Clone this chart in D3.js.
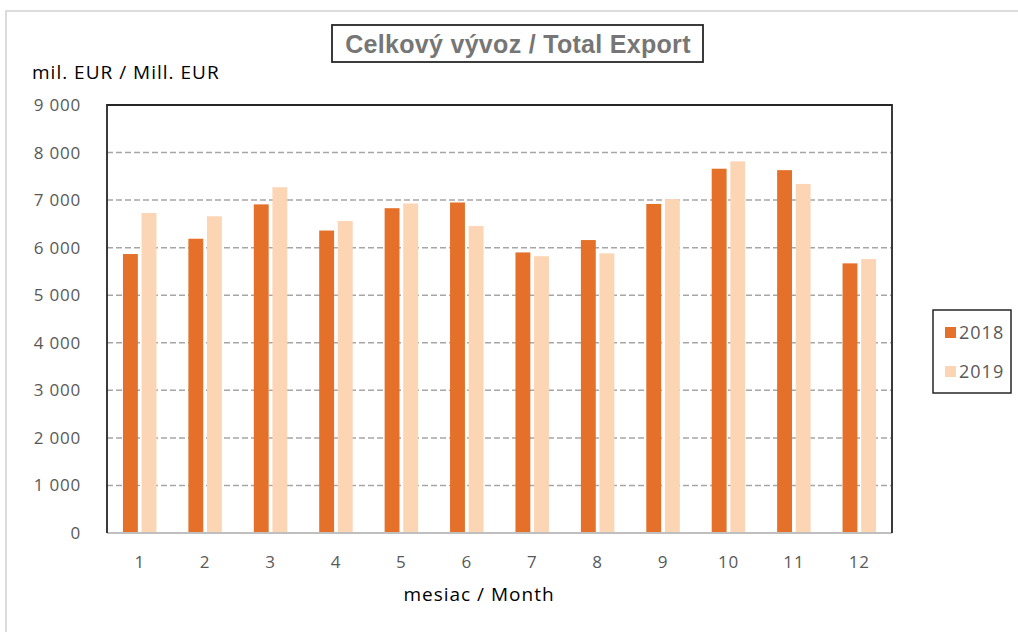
<!DOCTYPE html>
<html>
<head>
<meta charset="utf-8">
<script src="https://cdn.jsdelivr.net/npm/d3@7"></script>
<style>
  body { margin: 0; background: #fff; }
  text { font-family: "Open Sans", "Noto Sans", sans-serif; }
</style>
</head>
<body>
<div id="chart"></div>
<script>
// Chart data
var months = ["1", "2", "3", "4", "5", "6", "7", "8", "9", "10", "11", "12"];
var seriesNames = ["2018", "2019"];
var export2018 = [5866, 6188, 6910, 6360, 6830, 6950, 5900, 6160, 6920, 7660, 7630, 5670];
var export2019 = [6730, 6660, 7270, 6560, 6930, 6455, 5820, 5880, 7020, 7815, 7340, 5760];
var yTicks = [0, 1000, 2000, 3000, 4000, 5000, 6000, 7000, 8000, 9000];
var colors = ["#E4702A", "#FCD5B5"];

var svgWidth = 1018;
var svgHeight = 632;

// plot area
var margin = { top: 105, right: 126, bottom: 99, left: 107 };
var width = svgWidth - margin.left - margin.right;
var height = svgHeight - margin.top - margin.bottom;

var svg = d3.select("#chart")
  .append("svg")
  .attr("width", svgWidth)
  .attr("height", svgHeight);

// outer light frame
svg.append("path")
  .attr("d", "M6,640 L6,11 L1030,11")
  .attr("fill", "none")
  .attr("stroke", "#dcdcdc")
  .attr("stroke-width", 2);

var chartGroup = svg.append("g")
  .attr("transform", `translate(${margin.left}, ${margin.top})`);

// scales
var x0 = d3.scaleBand()
  .domain(months)
  .range([0, width])
  .paddingInner(0.488)
  .paddingOuter(0.244);

var x1 = d3.scaleBand()
  .domain(seriesNames)
  .range([0, x0.bandwidth()])
  .paddingInner(0.2);

var y = d3.scaleLinear()
  .domain([0, 9000])
  .range([height, 0]);

// gridlines
chartGroup.append("g")
  .selectAll("line")
  .data(yTicks.filter(d => d > 0 && d < 9000))
  .enter()
  .append("line")
  .attr("x1", 0)
  .attr("x2", width)
  .attr("y1", d => y(d))
  .attr("y2", d => y(d))
  .attr("stroke", "#a6a6a6")
  .attr("stroke-width", 1.5)
  .attr("stroke-dasharray", "6,3");

// bars
var data = months.map((m, i) => ({ month: m, values: [export2018[i], export2019[i]] }));

var groups = chartGroup.selectAll(".month")
  .data(data)
  .enter()
  .append("g")
  .attr("transform", d => `translate(${x0(d.month)}, 0)`);

groups.selectAll("rect")
  .data(d => d.values.map((v, i) => ({ key: seriesNames[i], value: v, idx: i })))
  .enter()
  .append("rect")
  .attr("x", d => x1(d.key))
  .attr("width", x1.bandwidth())
  .attr("y", d => y(d.value))
  .attr("height", d => height - y(d.value))
  .attr("fill", d => colors[d.idx]);

// bottom axis line
chartGroup.append("line")
  .attr("x1", 0).attr("x2", width)
  .attr("y1", height).attr("y2", height)
  .attr("stroke", "#bfbfbf")
  .attr("stroke-width", 2);

// plot border (left, top, right)
chartGroup.append("path")
  .attr("d", `M0,${height} L0,0 L${width},0 L${width},${height}`)
  .attr("fill", "none")
  .attr("stroke", "#262626")
  .attr("stroke-width", 1.8);

// axes
var leftAxis = d3.axisLeft(y)
  .tickValues(yTicks)
  .tickSize(0)
  .tickPadding(26)
  .tickFormat(d => d3.format(",")(d).replace(/,/g, " "));

var bottomAxis = d3.axisBottom(x0)
  .tickSize(0)
  .tickPadding(23);

chartGroup.append("g")
  .call(leftAxis)
  .call(g => g.select(".domain").remove())
  .selectAll("text")
  .attr("fill", "#595959")
  .style("font-size", "17px")
  .style("letter-spacing", "0.8px")
  .style("font-family", "'Open Sans', sans-serif");

chartGroup.append("g")
  .attr("transform", `translate(0, ${height})`)
  .call(bottomAxis)
  .call(g => g.select(".domain").remove())
  .selectAll("text")
  .attr("fill", "#595959")
  .style("font-size", "17px")
  .style("letter-spacing", "0.8px")
  .style("font-family", "'Open Sans', sans-serif");

// y-axis label
svg.append("text")
  .attr("x", 32)
  .attr("y", 79)
  .attr("fill", "#000")
  .style("font-size", "19px")
  .style("letter-spacing", "1px")
  .text("mil. EUR / Mill. EUR");

// x-axis label
svg.append("text")
  .attr("x", 479)
  .attr("y", 601)
  .attr("text-anchor", "middle")
  .attr("fill", "#000")
  .style("font-size", "19px")
  .style("letter-spacing", "1px")
  .text("mesiac / Month");

// title with box
svg.append("rect")
  .attr("x", 332)
  .attr("y", 25)
  .attr("width", 371)
  .attr("height", 37)
  .attr("fill", "#fff")
  .attr("stroke", "#262626")
  .attr("stroke-width", 1.8);

svg.append("text")
  .attr("x", 518)
  .attr("y", 53)
  .attr("text-anchor", "middle")
  .attr("fill", "#767676")
  .style("font-family", "'Liberation Sans', Arial, sans-serif")
  .style("font-weight", "bold")
  .style("font-size", "25px")
  .style("letter-spacing", "0.3px")
  .text("Celkový vývoz / Total Export");

// legend
var legend = svg.append("g");
legend.append("rect")
  .attr("x", 933)
  .attr("y", 310)
  .attr("width", 78)
  .attr("height", 83)
  .attr("fill", "#fff")
  .attr("stroke", "#262626")
  .attr("stroke-width", 1.5);

var legendItems = legend.selectAll(".item")
  .data(seriesNames)
  .enter()
  .append("g")
  .attr("transform", (d, i) => `translate(945, ${327 + i * 39})`);

legendItems.append("rect")
  .attr("width", 11)
  .attr("height", 11)
  .attr("fill", (d, i) => colors[i]);

legendItems.append("text")
  .attr("x", 14)
  .attr("y", 11.5)
  .attr("fill", "#595959")
  .style("font-size", "18px")
  .style("letter-spacing", "1px")
  .text(d => d);
</script>
</body>
</html>
